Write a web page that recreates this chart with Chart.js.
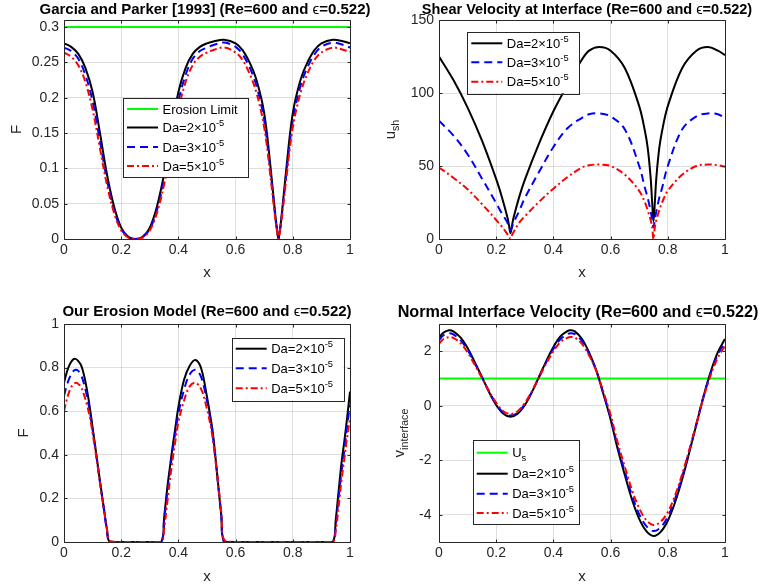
<!DOCTYPE html>
<html>
<head>
<meta charset="utf-8">
<title>Erosion at a porous interface</title>
<script src="https://cdn.jsdelivr.net/npm/chart.js@4.4.1/dist/chart.umd.min.js"></script>
<style>
  html, body { margin: 0; padding: 0; background: #ffffff; }
  #figure { position: relative; width: 765px; height: 588px; overflow: hidden; background: #ffffff; }
  #figure canvas { position: absolute; }
</style>
</head>
<body>
<div id="figure">
  <canvas id="gp" width="382" height="294" style="left:0;top:0;width:382px;height:294px"></canvas>
  <canvas id="shear" width="383" height="294" style="left:382px;top:0;width:383px;height:294px"></canvas>
  <canvas id="erosion" width="382" height="294" style="left:0;top:294px;width:382px;height:294px"></canvas>
  <canvas id="vel" width="383" height="294" style="left:382px;top:294px;width:383px;height:294px"></canvas>
</div>
<script>
// ---------------- data ----------------
const xTicks = [0, 0.2, 0.4, 0.6, 0.8, 1];
const limitX = [0, 1];
const daLabels = ['Da=2×10^{-5}', 'Da=3×10^{-5}', 'Da=5×10^{-5}'];

// Garcia & Parker [1993] entrainment function
const xGP = [0, 0.025, 0.05, 0.075, 0.1, 0.125, 0.15, 0.175, 0.2, 0.225,
  0.25, 0.275, 0.3, 0.325, 0.35, 0.375, 0.4, 0.425, 0.45, 0.475,
  0.5, 0.525, 0.56, 0.6, 0.625, 0.65, 0.67, 0.69, 0.7, 0.71,
  0.72, 0.73, 0.74, 0.745, 0.75, 0.755, 0.76, 0.77, 0.78, 0.79,
  0.8, 0.81, 0.83, 0.85, 0.875, 0.9, 0.94, 0.975, 1];
const gpDa2 = [0.277, 0.272, 0.262, 0.242, 0.208, 0.152, 0.092, 0.046, 0.016, 0.003,
  0.000, 0.003, 0.016, 0.046, 0.092, 0.152, 0.208, 0.242, 0.262, 0.272,
  0.277, 0.280, 0.282, 0.277, 0.267, 0.249, 0.229, 0.199, 0.178, 0.148,
  0.110, 0.070, 0.030, 0.013, 0.000, 0.013, 0.030, 0.070, 0.110, 0.148,
  0.178, 0.199, 0.229, 0.249, 0.267, 0.277, 0.282, 0.280, 0.277];
const gpDa3 = [0.271, 0.266, 0.255, 0.232, 0.195, 0.140, 0.084, 0.041, 0.014, 0.003,
  0.000, 0.003, 0.014, 0.041, 0.084, 0.140, 0.195, 0.232, 0.255, 0.266,
  0.271, 0.275, 0.278, 0.272, 0.261, 0.242, 0.221, 0.189, 0.168, 0.138,
  0.102, 0.064, 0.027, 0.012, 0.000, 0.012, 0.027, 0.064, 0.102, 0.138,
  0.168, 0.189, 0.221, 0.242, 0.261, 0.272, 0.278, 0.275, 0.271];
const gpDa5 = [0.264, 0.258, 0.246, 0.222, 0.183, 0.130, 0.077, 0.037, 0.012, 0.002,
  0.000, 0.002, 0.012, 0.037, 0.077, 0.130, 0.183, 0.222, 0.246, 0.258,
  0.264, 0.268, 0.271, 0.264, 0.253, 0.233, 0.211, 0.179, 0.158, 0.130,
  0.095, 0.060, 0.025, 0.011, 0.000, 0.011, 0.025, 0.060, 0.095, 0.130,
  0.158, 0.179, 0.211, 0.233, 0.253, 0.264, 0.271, 0.268, 0.265];
const erosionLimit = [0.3, 0.3];
const gpTicks = [0, 0.05, 0.1, 0.15, 0.2, 0.25, 0.3];

// Shear velocity at the interface
const xSh = [0, 0.05, 0.1, 0.15, 0.2, 0.22, 0.24, 0.245, 0.25, 0.255,
  0.26, 0.28, 0.3, 0.35, 0.4, 0.45, 0.5, 0.525, 0.56, 0.6,
  0.65, 0.7, 0.72, 0.73, 0.74, 0.745, 0.75, 0.755, 0.76, 0.77,
  0.78, 0.8, 0.85, 0.9, 0.94, 0.975, 1];
const shDa2 = [125, 109, 90, 67.5, 41, 28.6, 14.2, 9, 4, 9,
  14, 28.5, 40.5, 65.5, 87.5, 106, 123, 129, 131.5, 129,
  117, 91, 74, 62, 42, 26, 12, 26, 42, 62,
  74, 91, 117, 129, 131.5, 129, 126];
const shDa3 = [81, 71, 58, 41.5, 24.5, 17.5, 11, 8, 6, 8,
  11, 19, 28, 46, 63, 76, 83, 85.5, 86, 84,
  75, 50, 35, 28, 19, 14, 8, 14, 19, 28,
  35, 50, 75, 84, 86, 85.5, 83];
const shDa5 = [49, 42, 34, 24, 13, 8.5, 3, 1.5, 0, 2.5,
  4.5, 11, 15.5, 25.5, 34.5, 42.5, 49, 50.5, 51, 50,
  44, 33, 25, 19.5, 13, 8.5, 0, 8.5, 13, 19.5,
  25, 33, 44, 50, 51, 50.5, 49.5];
const shTicks = [0, 50, 100, 150];

// Erosion model
const xEr = [0, 0.01, 0.02, 0.03, 0.04, 0.05, 0.06, 0.07, 0.08, 0.09,
  0.1, 0.11, 0.12, 0.13, 0.14, 0.15, 0.16, 0.2, 0.3, 0.34,
  0.35, 0.36, 0.37, 0.38, 0.39, 0.4, 0.42, 0.44, 0.46, 0.48,
  0.5, 0.51, 0.52, 0.53, 0.54, 0.55, 0.56, 0.6, 0.7, 0.8,
  0.9, 0.94, 0.95, 0.96, 0.97, 0.98, 0.99, 1];
const erDa2 = [0.73, 0.78, 0.815, 0.835, 0.84, 0.83, 0.81, 0.765, 0.7, 0.62,
  0.525, 0.43, 0.335, 0.24, 0.15, 0.06, 0, 0, 0, 0,
  0.11, 0.235, 0.34, 0.44, 0.53, 0.62, 0.745, 0.81, 0.835, 0.795,
  0.665, 0.59, 0.505, 0.385, 0.25, 0.12, 0, 0, 0, 0,
  0, 0, 0.1, 0.23, 0.36, 0.46, 0.57, 0.69];
const erDa3 = [0.67, 0.72, 0.755, 0.78, 0.79, 0.785, 0.765, 0.725, 0.67, 0.6,
  0.515, 0.425, 0.33, 0.235, 0.145, 0.055, 0, 0, 0, 0,
  0.1, 0.215, 0.32, 0.42, 0.51, 0.59, 0.7, 0.77, 0.79, 0.755,
  0.645, 0.575, 0.49, 0.375, 0.25, 0.12, 0, 0, 0, 0,
  0, 0, 0.08, 0.2, 0.32, 0.42, 0.53, 0.63];
const erDa5 = [0.6, 0.655, 0.695, 0.72, 0.73, 0.725, 0.71, 0.675, 0.63, 0.575,
  0.5, 0.415, 0.325, 0.23, 0.145, 0.06, 0.005, 0, 0, 0,
  0.06, 0.17, 0.28, 0.38, 0.47, 0.55, 0.65, 0.715, 0.73, 0.7,
  0.61, 0.55, 0.475, 0.37, 0.255, 0.135, 0.01, 0, 0, 0,
  0, 0, 0.05, 0.16, 0.28, 0.38, 0.48, 0.57];
const erTicks = [0, 0.2, 0.4, 0.6, 0.8, 1];

// Normal interface velocity
const xV = [0, 0.015, 0.035, 0.05, 0.075, 0.1, 0.125, 0.15, 0.175, 0.2,
  0.225, 0.25, 0.275, 0.3, 0.325, 0.35, 0.375, 0.4, 0.425, 0.45,
  0.46, 0.475, 0.5, 0.525, 0.55, 0.575, 0.6, 0.625, 0.65, 0.675,
  0.7, 0.725, 0.75, 0.775, 0.8, 0.825, 0.85, 0.875, 0.9, 0.925,
  0.95, 0.975, 1];
const vDa2 = [2.5, 2.68, 2.77, 2.73, 2.51, 2.12, 1.6, 1.06, 0.5, 0.03,
  -0.29, -0.4, -0.29, 0.02, 0.5, 1.07, 1.64, 2.16, 2.55, 2.75,
  2.77, 2.73, 2.45, 1.95, 1.3, 0.42, -0.5, -1.6, -2.55, -3.45,
  -4.15, -4.6, -4.78, -4.63, -4.22, -3.56, -2.71, -1.72, -0.69, 0.35,
  1.25, 1.97, 2.45];
const vDa3 = [2.4, 2.58, 2.66, 2.62, 2.41, 2.05, 1.56, 1.05, 0.52, 0.07,
  -0.25, -0.36, -0.25, 0.06, 0.52, 1.06, 1.6, 2.08, 2.45, 2.63,
  2.66, 2.63, 2.37, 1.9, 1.28, 0.45, -0.43, -1.5, -2.42, -3.3,
  -3.98, -4.42, -4.6, -4.46, -4.07, -3.43, -2.61, -1.66, -0.66, 0.34,
  1.2, 1.88, 2.32];
const vDa5 = [2.27, 2.44, 2.52, 2.49, 2.3, 1.96, 1.5, 1.02, 0.54, 0.11,
  -0.2, -0.3, -0.2, 0.1, 0.54, 1.05, 1.55, 2.0, 2.34, 2.5,
  2.52, 2.5, 2.27, 1.84, 1.27, 0.5, -0.33, -1.36, -2.25, -3.1,
  -3.76, -4.2, -4.38, -4.26, -3.9, -3.3, -2.52, -1.62, -0.66, 0.3,
  1.12, 1.77, 2.2];
const usLine = [1, 1];
const vTicks = [-4, -2, 0, 2];

// ---------------- styling ----------------
const FONT = '"Liberation Sans", Arial, Helvetica, "DejaVu Sans", sans-serif';
const INK = '#262626';
const GRID = 'rgba(38,38,38,0.15)';
const STYLE = {
  green: { color: '#00ff00', dash: [] },
  black: { color: '#000000', dash: [] },
  blue:  { color: '#0000ff', dash: [8, 5] },
  red:   { color: '#ff0000', dash: [7, 3, 2, 3] }
};

function pts(xs, ys) { return xs.map((x, i) => ({ x: x, y: ys[i] })); }

function series(label, xs, ys, style, order) {
  return {
    label: label, data: pts(xs, ys),
    borderColor: style.color, borderDash: style.dash, borderWidth: 2,
    borderJoinStyle: 'round', pointRadius: 0, fill: false,
    tension: 0.35, order: order
  };
}

// Small TeX-like text: ^{..} superscript, _{..} subscript, Greek drawn upright
function parseRich(str) {
  const out = [];
  let buf = '', i = 0;
  const flush = () => { if (buf) { out.push({ t: buf, s: 0 }); buf = ''; } };
  while (i < str.length) {
    const c = str[i];
    if ((c === '^' || c === '_') && str[i + 1] === '{') {
      flush();
      const j = str.indexOf('}', i);
      out.push({ t: str.slice(i + 2, j), s: c === '^' ? 1 : -1 });
      i = j + 1;
    } else if (/[\u0370-\u03ff]/.test(c)) {
      flush();
      out.push({ t: c, s: 0, sym: true });
      i++;
    } else { buf += c; i++; }
  }
  flush();
  return out;
}
function partFont(p, size, weight) {
  const sz = p.s ? size * 0.72 : size;
  return (p.sym ? 'normal' : weight) + ' ' + sz + 'px ' + FONT;
}
function drawRich(ctx, str, x, y, size, opt) {
  opt = opt || {};
  const weight = opt.weight || 'normal';
  const parts = parseRich(str);
  let w = 0;
  parts.forEach(p => { ctx.font = partFont(p, size, weight); p.w = ctx.measureText(p.t).width; w += p.w; });
  let cx = opt.align === 'center' ? x - w / 2 : x;
  const base = y + 0.35 * size;
  ctx.fillStyle = opt.color || '#000000';
  ctx.textAlign = 'left';
  ctx.textBaseline = 'alphabetic';
  parts.forEach(p => {
    ctx.font = partFont(p, size, weight);
    const dy = p.s > 0 ? -0.45 * size : (p.s < 0 ? 0.25 * size : 0);
    ctx.fillText(p.t, cx, base + dy);
    cx += p.w;
  });
  return w;
}

// Box, inward ticks, titles, axis labels and legend
const axesDecor = {
  id: 'axesDecor',
  afterDatasetsDraw(chart, args, o) {
    const ctx = chart.ctx, a = chart.chartArea;
    const xs = chart.scales.x, ys = chart.scales.y;
    const L = a.left + 0.5, R = a.right + 0.5, T = a.top + 0.5, B = a.bottom + 0.5;
    const tl = 3;
    ctx.save();
    ctx.strokeStyle = INK; ctx.lineWidth = 1; ctx.setLineDash([]);
    ctx.beginPath();
    ctx.rect(L, T, R - L, B - T);
    xs.ticks.forEach(t => {
      const p = Math.round(xs.getPixelForValue(t.value)) + 0.5;
      ctx.moveTo(p, B); ctx.lineTo(p, B - tl);
      ctx.moveTo(p, T); ctx.lineTo(p, T + tl);
    });
    ys.ticks.forEach(t => {
      const p = Math.round(ys.getPixelForValue(t.value)) + 0.5;
      ctx.moveTo(L, p); ctx.lineTo(L + tl, p);
      ctx.moveTo(R, p); ctx.lineTo(R - tl, p);
    });
    ctx.stroke();
    ctx.restore();
  },
  afterDraw(chart, args, o) {
    const ctx = chart.ctx;
    ctx.save();
    drawRich(ctx, o.title.text, o.title.x, o.title.y, o.title.size, { align: 'center', weight: 'bold', color: '#000000' });
    drawRich(ctx, o.xlabel.text, o.xlabel.x, o.xlabel.y, 15, { align: 'center', color: INK });
    ctx.save();
    ctx.translate(o.ylabel.x, o.ylabel.y);
    ctx.rotate(-Math.PI / 2);
    drawRich(ctx, o.ylabel.text, 0, 0, 15, { align: 'center', color: INK });
    ctx.restore();

    const lg = o.legend;
    ctx.fillStyle = '#ffffff';
    ctx.fillRect(lg.x, lg.y, lg.w, lg.h);
    ctx.strokeStyle = INK; ctx.lineWidth = 1; ctx.setLineDash([]);
    ctx.strokeRect(Math.round(lg.x) + 0.5, Math.round(lg.y) + 0.5, Math.round(lg.w), Math.round(lg.h));
    chart.data.datasets.forEach((ds, i) => {
      const y = lg.y + lg.rows[i];
      ctx.strokeStyle = ds.borderColor;
      ctx.lineWidth = ds.borderWidth;
      ctx.setLineDash(ds.borderDash);
      ctx.beginPath();
      ctx.moveTo(lg.x + 4, y); ctx.lineTo(lg.x + 35, y);
      ctx.stroke();
      ctx.setLineDash([]);
      drawRich(ctx, ds.label, lg.x + 39.5, y, 13, { color: '#000000' });
    });
    ctx.restore();
  }
};

function build(canvasId, p) {
  const canvas = document.getElementById(canvasId);
  const W = canvas.width, H = canvas.height, g = p.geo;
  const tickFont = { family: FONT, size: 14 };
  return new Chart(canvas, {
    type: 'line',
    data: { datasets: p.datasets },
    options: {
      responsive: false, animation: false, devicePixelRatio: 1, events: [],
      layout: { padding: { left: 0, top: g.T, right: W - g.R, bottom: 0 } },
      plugins: {
        legend: { display: false }, tooltip: { enabled: false }, title: { display: false },
        axesDecor: p.decor
      },
      scales: {
        x: {
          type: 'linear', min: 0, max: 1,
          afterBuildTicks: s => { s.ticks = xTicks.map(v => ({ value: v })); },
          afterFit: s => { s.height = H - g.B; },
          grid: { color: GRID, lineWidth: 1, drawTicks: false },
          border: { display: false },
          ticks: { color: INK, font: tickFont, padding: 3, autoSkip: false, maxRotation: 0, callback: v => String(v) }
        },
        y: {
          type: 'linear', min: p.yMin, max: p.yMax,
          afterBuildTicks: s => { s.ticks = p.yTicks.map(v => ({ value: v })); },
          afterFit: s => { s.width = g.L; },
          grid: { color: GRID, lineWidth: 1, drawTicks: false },
          border: { display: false },
          ticks: { color: INK, font: tickFont, padding: p.tickPad, autoSkip: false, callback: v => String(v) }
        }
      }
    },
    plugins: [axesDecor]
  });
}

build('gp', {
  geo: { L: 64, T: 20, R: 350, B: 239 }, yMin: 0, yMax: 0.31, yTicks: gpTicks, tickPad: 5,
  datasets: [
    series('Erosion Limit', limitX, erosionLimit, STYLE.green, 3),
    series(daLabels[0], xGP, gpDa2, STYLE.black, 2),
    series(daLabels[1], xGP, gpDa3, STYLE.blue, 1),
    series(daLabels[2], xGP, gpDa5, STYLE.red, 0)
  ],
  decor: {
    title: { text: 'Garcia and Parker [1993] (Re=600 and ϵ=0.522)', x: 205, y: 8.5, size: 15 },
    xlabel: { text: 'x', x: 207, y: 272 },
    ylabel: { text: 'F', x: 15.8, y: 129.5 },
    legend: { x: 123, y: 98, w: 125, h: 79, rows: [11, 29.5, 49, 68] }
  }
});

build('shear', {
  geo: { L: 57, T: 20, R: 343, B: 239 }, yMin: 0, yMax: 150, yTicks: shTicks, tickPad: 5,
  datasets: [
    series(daLabels[0], xSh, shDa2, STYLE.black, 2),
    series(daLabels[1], xSh, shDa3, STYLE.blue, 1),
    series(daLabels[2], xSh, shDa5, STYLE.red, 0)
  ],
  decor: {
    title: { text: 'Shear Velocity at Interface (Re=600 and ϵ=0.522)', x: 205, y: 8.5, size: 14.5 },
    xlabel: { text: 'x', x: 200, y: 272 },
    ylabel: { text: 'u_{sh}', x: 8, y: 129.5 },
    legend: { x: 85.3, y: 31.7, w: 111.7, h: 61.6, rows: [11.6, 30.6, 50] }
  }
});

build('erosion', {
  geo: { L: 64, T: 30, R: 350, B: 248 }, yMin: 0, yMax: 1, yTicks: erTicks, tickPad: 5,
  datasets: [
    series(daLabels[0], xEr, erDa2, STYLE.black, 2),
    series(daLabels[1], xEr, erDa3, STYLE.blue, 1),
    series(daLabels[2], xEr, erDa5, STYLE.red, 0)
  ],
  decor: {
    title: { text: 'Our Erosion Model (Re=600 and ϵ=0.522)', x: 207, y: 17, size: 15 },
    xlabel: { text: 'x', x: 207, y: 281.5 },
    ylabel: { text: 'F', x: 22.5, y: 139 },
    legend: { x: 231.7, y: 43.7, w: 111.6, h: 62.5, rows: [11, 30.5, 50.5] }
  }
});

build('vel', {
  geo: { L: 57, T: 30, R: 343, B: 248 }, yMin: -5, yMax: 3, yTicks: vTicks, tickPad: 7.5,
  datasets: [
    series('U_{s}', limitX, usLine, STYLE.green, 3),
    series(daLabels[0], xV, vDa2, STYLE.black, 2),
    series(daLabels[1], xV, vDa3, STYLE.blue, 1),
    series(daLabels[2], xV, vDa5, STYLE.red, 0)
  ],
  decor: {
    title: { text: 'Normal Interface Velocity (Re=600 and ϵ=0.522)', x: 196, y: 17, size: 16.2 },
    xlabel: { text: 'x', x: 200, y: 281.5 },
    ylabel: { text: 'v_{interface}', x: 16.6, y: 139 },
    legend: { x: 90.7, y: 146.3, w: 106, h: 84, rows: [12.4, 33.4, 53.4, 72.7] }
  }
});
</script>
</body>
</html>
